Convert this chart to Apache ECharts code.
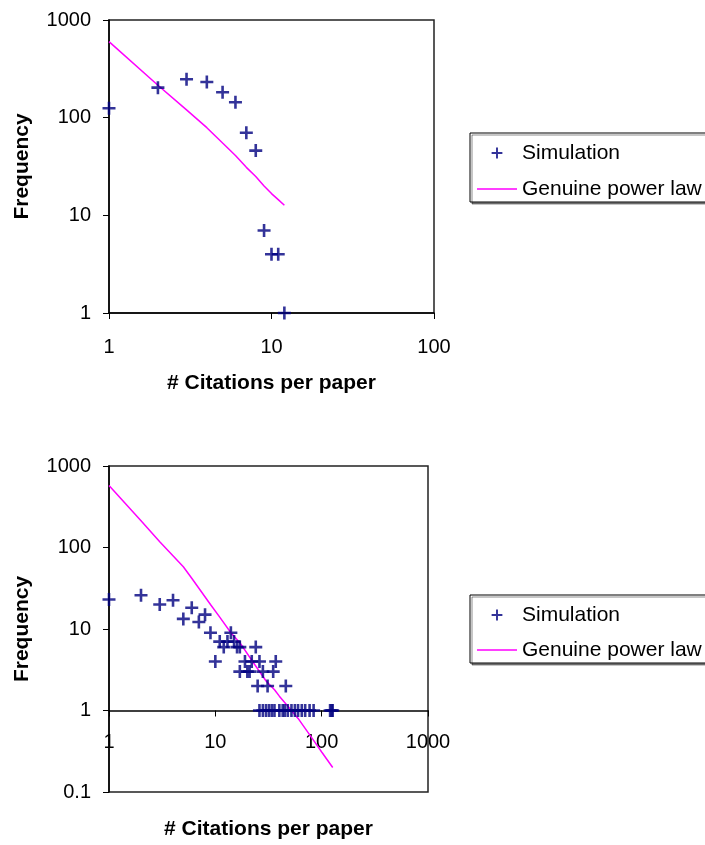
<!DOCTYPE html>
<html><head><meta charset="utf-8">
<script src="https://cdn.jsdelivr.net/npm/echarts@6/dist/echarts.min.js"></script>
<style>html,body{margin:0;padding:0;background:#fff}#c{width:705px;height:845px}</style>
</head><body><div id="c"></div>
<script>
// ---- Top chart data ----
const topSimX = [1, 2, 3, 4, 5, 6, 7, 8, 9, 10, 11, 12];
const topSimY = [125, 203, 247, 232, 182, 144, 70, 46, 7, 4, 4, 1];
const topLawX = [1, 2, 3, 4, 5, 6, 7, 8, 9, 10, 11, 12];
const topLawY = [600, 215, 120, 79, 55, 41, 31, 25, 20, 16.7, 14.5, 12.7];
const topXTickLabels = ['1', '10', '100'];
const topYTickLabels = ['1', '10', '100', '1000'];

// ---- Bottom chart data ----
const botSimX = [1, 2, 3, 4, 5, 6, 7, 8, 9, 14, 11, 13, 15, 12, 16, 17, 24, 10, 19, 22, 26, 37, 17, 20, 21, 28, 35, 25, 31, 46,
  26, 28, 30, 32, 34, 36, 40, 43, 45, 48, 52, 56, 60, 65, 70, 77, 84, 120, 124, 127];
const botSimY = [23, 26, 20, 22.5, 13.3, 18.2, 12.2, 15, 9, 9, 7, 7, 7, 6, 6, 6, 6, 4, 4, 4, 4, 4, 3, 3, 3, 3, 3, 2, 2, 2,
  1, 1, 1, 1, 1, 1, 1, 1, 1, 1, 1, 1, 1, 1, 1, 1, 1, 1, 1, 1];
const botLawX = [1, 2, 3, 5, 6, 9, 11, 14, 17, 23, 30, 36, 40, 52, 60, 83, 100, 127];
const botLawY = [577, 213, 118, 58, 42, 20, 14, 9, 6.8, 3.8, 2.3, 1.8, 1.5, 1.0, 0.8, 0.44, 0.31, 0.2];
const botXTickLabels = ['1', '10', '100', '1000'];
const botYTickLabels = ['0.1', '1', '10', '100', '1000'];

const seriesNames = ['Simulation', 'Genuine power law'];

function pairs(xs, ys) { return xs.map((x, i) => [x, ys[i]]); }
function labelFrom(list) {
  return function (v) {
    let best = list[0], bd = Infinity;
    list.forEach(s => { const d = Math.abs(Math.log10(+s) - Math.log10(v)); if (d < bd) { bd = d; best = s; } });
    return best;
  };
}

const FONT = 'Liberation Sans, Arial, Helvetica, sans-serif';
const NAVY = '#000080';
const MAGENTA = '#ff00ff';
const PLUS = 'path://M40,0L60,0L60,40L100,40L100,60L60,60L60,100L40,100L40,60L0,60L0,40L40,40Z';
const LEGEND_PLUS = 'path://M-15,-15L-15,-15ZM115,115L115,115ZM41,0L59,0L59,41L100,41L100,59L59,59L59,100L41,100L41,59L0,59L0,41L41,41Z';
const LEGEND_LINE = 'path://M0,0L0,0ZM40,14L40,14ZM0,6.3L40,6.3L40,7.7L0,7.7Z';

function axisCommon(labels, margin) {
  return {
    type: 'log', logBase: 10,
    axisLine: { show: true, lineStyle: { color: '#000', width: 1.5 } },
    axisTick: { show: true, length: 6, inside: false, lineStyle: { color: '#000', width: 1 } },
    axisLabel: { show: true, margin: margin, fontSize: 20, color: '#000', fontFamily: FONT, formatter: labelFrom(labels) },
    splitLine: { show: false }, minorTick: { show: false },
    nameLocation: 'middle',
    nameTextStyle: { fontSize: 21, fontWeight: 'bold', color: '#000', fontFamily: FONT }
  };
}

function legendAt(top, gap) {
  return {
    orient: 'vertical', left: 470, top: top,
    padding: [8, 20, 1, 7], itemGap: gap,
    itemWidth: 40, itemHeight: 14,
    borderColor: '#000', borderWidth: 1, backgroundColor: '#fff',
    shadowColor: 'rgba(0,0,0,0.45)', shadowOffsetX: 2, shadowOffsetY: 2, shadowBlur: 0,
    textStyle: { fontSize: 21, color: '#000', fontFamily: FONT, lineHeight: 24 },
    selectedMode: false,
    data: [
      { name: seriesNames[0], icon: LEGEND_PLUS, itemStyle: { color: NAVY } },
      { name: seriesNames[1], icon: LEGEND_LINE, itemStyle: { color: MAGENTA } }
    ]
  };
}

const chart = echarts.init(document.getElementById('c'), null, { renderer: 'canvas' });
chart.setOption({
  backgroundColor: '#fff',
  animation: false,
  grid: [
    { left: 109, top: 20, width: 325, height: 293, show: true, borderColor: '#222', borderWidth: 1.5, backgroundColor: '#fff' },
    { left: 109, top: 466, width: 319, height: 326, show: true, borderColor: '#222', borderWidth: 1.5, backgroundColor: '#fff' }
  ],
  legend: [legendAt(133, 12), legendAt(595, 11)],
  xAxis: [
    Object.assign(axisCommon(topXTickLabels, 24), { gridIndex: 0, min: 1, max: 100, name: '# Citations per paper', nameGap: 60 }),
    Object.assign(axisCommon(botXTickLabels, 22), { gridIndex: 1, min: 1, max: 1000, offset: -326 / 4, name: '# Citations per paper', nameGap: 108 })
  ],
  yAxis: [
    Object.assign(axisCommon(topYTickLabels, 18), { gridIndex: 0, min: 1, max: 1000, name: 'Frequency', nameGap: 76 }),
    Object.assign(axisCommon(botYTickLabels, 18), { gridIndex: 1, min: 0.1, max: 1000, name: 'Frequency', nameGap: 76 })
  ],
  series: [
    { name: seriesNames[0], type: 'scatter', xAxisIndex: 0, yAxisIndex: 0, symbol: PLUS, symbolSize: 13,
      itemStyle: { color: NAVY }, data: pairs(topSimX, topSimY), clip: false, z: 3 },
    { name: seriesNames[1], type: 'line', xAxisIndex: 0, yAxisIndex: 0, symbol: 'none', showSymbol: false,
      lineStyle: { color: MAGENTA, width: 1.5 }, itemStyle: { color: MAGENTA }, data: pairs(topLawX, topLawY), z: 2 },
    { name: seriesNames[0], type: 'scatter', xAxisIndex: 1, yAxisIndex: 1, symbol: PLUS, symbolSize: 13,
      itemStyle: { color: NAVY }, data: pairs(botSimX, botSimY), clip: false, z: 3 },
    { name: seriesNames[1], type: 'line', xAxisIndex: 1, yAxisIndex: 1, symbol: 'none', showSymbol: false,
      lineStyle: { color: MAGENTA, width: 1.5 }, itemStyle: { color: MAGENTA }, data: pairs(botLawX, botLawY), z: 2 }
  ]
});
</script>
</body></html>
